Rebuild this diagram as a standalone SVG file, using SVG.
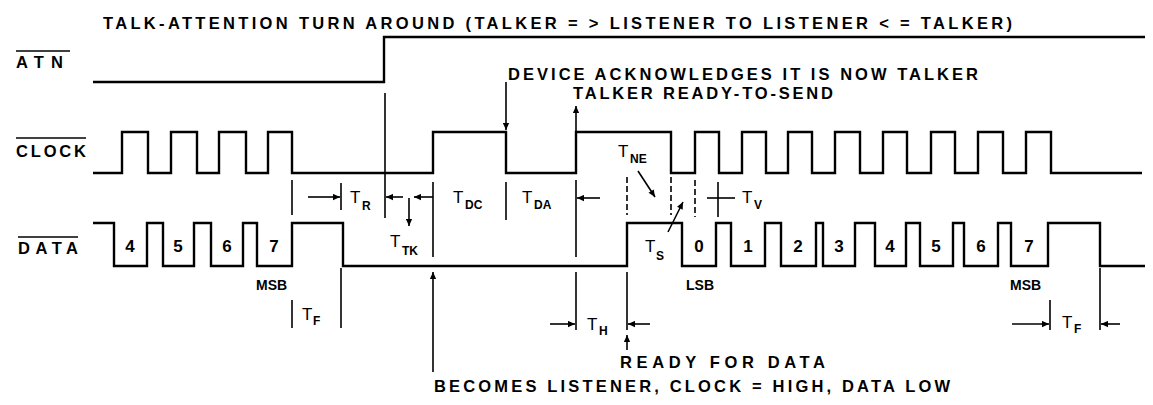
<svg xmlns="http://www.w3.org/2000/svg" width="1153" height="405" viewBox="0 0 1153 405">
<style>
text{font-family:"Liberation Sans",Arial,sans-serif;font-weight:bold;fill:#000}
.sig{fill:none;stroke:#000;stroke-width:2.4;stroke-linejoin:miter}
.dim{fill:none;stroke:#000;stroke-width:1.6}
.arr{fill:none;stroke:#000;stroke-width:1.6;marker-end:url(#ah)}
.lbl{font-size:16.5px}
.t{font-size:17px;font-weight:normal}
.sub{font-size:12px;font-weight:bold}
.dig{font-size:17px;text-anchor:middle}
.sm{font-size:14px}
</style>
<defs>
<marker id="ah" viewBox="0 0 10 10" refX="10" refY="5" markerWidth="9" markerHeight="7" markerUnits="userSpaceOnUse" orient="auto"><path d="M0,0.5 L10,5 L0,9.5 z" fill="#000"/></marker>
</defs>
<rect width="1153" height="405" fill="#fff"/>
<text class="lbl" x="103" y="29" textLength="909" lengthAdjust="spacing">TALK-ATTENTION TURN AROUND (TALKER = &gt; LISTENER TO LISTENER &lt; = TALKER)</text>
<g id="atn">
<text class="lbl" x="16" y="68" textLength="47" lengthAdjust="spacing">ATN</text>
<line class="dim" x1="16" y1="51" x2="70" y2="51"/>
<path class="sig" d="M93,82 H384 V37 H1145"/>
</g>
<g id="clock">
<text class="lbl" x="16" y="157" textLength="70" lengthAdjust="spacing">CLOCK</text>
<line class="dim" x1="16" y1="138" x2="86" y2="138"/>
<path class="sig" d="M93,173 H122 V132 H148 V173 H171 V132 H197 V173 H219 V132 H246 V173 H268 V132 H292 V173 H433 V132 H506 V173 H576 V132 H671 V173 H695 V132 H719 V173 H742 V132 H766 V173 H788 V132 H812 V173 H835 V132 H860 V173 H883 V132 H907 V173 H931 V132 H955 V173 H978 V132 H1003 V173 H1026 V132 H1051 V173 H1142"/>
</g>
<g id="data">
<text class="lbl" x="18" y="254" textLength="60" lengthAdjust="spacing">DATA</text>
<line class="dim" x1="18" y1="237" x2="78" y2="237"/>
<path class="sig" d="M93,223 H114 V266 H147 V223 H163 V266 H194 V223 H211 V266 H243 V223 H257 V266 H292 V223 H343 V266 H627 V223 H682 V266 H716 V223 H731 V266 H765 V223 H781 V266 H816 V223 H823 V266 H855 V223 H875 V266 H906 V223 H920 V266 H953 V223 H964 V266 H998 V223 H1011 V266 H1048 V223 H1100 V266 H1145"/>
<text class="dig" x="130" y="252">4</text>
<text class="dig" x="178" y="252">5</text>
<text class="dig" x="227" y="252">6</text>
<text class="dig" x="274" y="252">7</text>
<text class="dig" x="699" y="252">0</text>
<text class="dig" x="748" y="252">1</text>
<text class="dig" x="798" y="252">2</text>
<text class="dig" x="839" y="252">3</text>
<text class="dig" x="890" y="252">4</text>
<text class="dig" x="936" y="252">5</text>
<text class="dig" x="981" y="252">6</text>
<text class="dig" x="1029" y="252">7</text>
<text class="sm" x="256" y="290">MSB</text>
<text class="sm" x="686" y="290">LSB</text>
<text class="sm" x="1010" y="290">MSB</text>
</g>
<g id="notes">
<text class="lbl" x="508" y="80" textLength="470" lengthAdjust="spacing">DEVICE ACKNOWLEDGES IT IS NOW TALKER</text>
<text class="lbl" x="573" y="99" textLength="260" lengthAdjust="spacing">TALKER READY-TO-SEND</text>
<text class="lbl" x="620" y="368" textLength="205" lengthAdjust="spacing">READY FOR DATA</text>
<text class="lbl" x="434" y="392" textLength="516" lengthAdjust="spacing">BECOMES LISTENER, CLOCK = HIGH, DATA LOW</text>
</g>
<g id="timing-labels">
<text class="t" x="350" y="203">T</text><text class="sub" x="362" y="210">R</text>
<text class="t" x="390" y="247">T</text><text class="sub" x="402" y="255">TK</text>
<text class="t" x="453" y="203">T</text><text class="sub" x="465" y="209">DC</text>
<text class="t" x="522" y="203">T</text><text class="sub" x="534" y="209">DA</text>
<text class="t" x="618" y="157">T</text><text class="sub" x="630" y="163">NE</text>
<text class="t" x="742" y="203">T</text><text class="sub" x="754" y="209">V</text>
<text class="t" x="645" y="252">T</text><text class="sub" x="656" y="260">S</text>
<text class="t" x="302" y="320">T</text><text class="sub" x="313" y="325">F</text>
<text class="t" x="587" y="330">T</text><text class="sub" x="599" y="335">H</text>
<text class="t" x="1062" y="328">T</text><text class="sub" x="1074" y="333">F</text>
</g>
<g id="connectors">
<line class="dim" x1="385" y1="93" x2="385" y2="218"/>
<line class="dim" x1="292" y1="180" x2="292" y2="215"/>
<line class="dim" x1="341" y1="183" x2="341" y2="210"/>
<line class="dim" x1="433" y1="182" x2="433" y2="257"/>
<line class="dim" x1="506" y1="182" x2="506" y2="220"/>
<line class="dim" x1="576" y1="180" x2="576" y2="257"/>
<line class="dim" x1="627" y1="177" x2="627" y2="215" stroke-dasharray="6,3"/>
<line class="dim" x1="671" y1="177" x2="671" y2="215" stroke-dasharray="6,3"/>
<line class="dim" x1="695" y1="180" x2="695" y2="217" stroke-dasharray="6,3"/>
<line class="dim" x1="718" y1="182" x2="718" y2="217"/>
<line class="dim" x1="707" y1="198" x2="735" y2="198"/>
<line class="arr" x1="308" y1="197" x2="340" y2="197"/>
<line class="arr" x1="403" y1="197" x2="386" y2="197"/>
<line class="arr" x1="433" y1="197" x2="414" y2="197"/>
<line class="arr" x1="409" y1="198" x2="409" y2="226"/>
<line class="arr" x1="600" y1="198" x2="577" y2="198"/>
<line class="arr" x1="506" y1="82" x2="506" y2="130"/>
<line class="arr" x1="576" y1="132" x2="576" y2="106"/>
<line class="arr" x1="638" y1="171" x2="655" y2="197"/>
<line class="arr" x1="668" y1="232" x2="683" y2="202"/>
<line class="dim" x1="292" y1="300" x2="292" y2="328"/>
<line class="dim" x1="341" y1="268" x2="341" y2="328"/>
<line class="arr" x1="433" y1="372" x2="433" y2="272"/>
<line class="dim" x1="576" y1="272" x2="576" y2="330"/>
<line class="dim" x1="627" y1="272" x2="627" y2="330"/>
<line class="arr" x1="550" y1="324" x2="575" y2="324"/>
<line class="arr" x1="650" y1="324" x2="628" y2="324"/>
<line class="arr" x1="627" y1="350" x2="627" y2="335"/>
<line class="dim" x1="1050" y1="300" x2="1050" y2="330"/>
<line class="dim" x1="1100" y1="268" x2="1100" y2="330"/>
<line class="arr" x1="1012" y1="324" x2="1049" y2="324"/>
<line class="arr" x1="1120" y1="324" x2="1101" y2="324"/>
</g>
</svg>
